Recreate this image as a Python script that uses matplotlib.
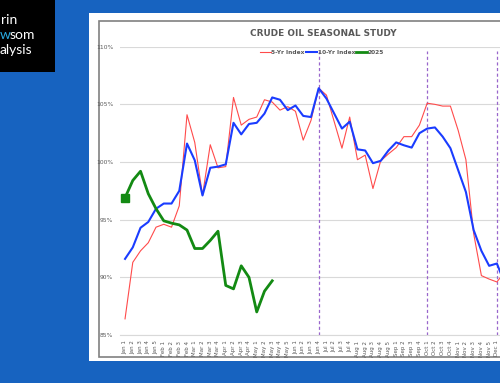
import numpy as np
import matplotlib.pyplot as plt
from matplotlib.patches import Rectangle

# semanas do ano (eixo x)
semanas = ['Jan 1', 'Jan 2', 'Jan 3', 'Jan 4', 'Jan 5',
           'Feb 1', 'Feb 2', 'Feb 3', 'Feb 4',
           'Mar 1', 'Mar 2', 'Mar 3', 'Mar 4',
           'Apr 1', 'Apr 2', 'Apr 3', 'Apr 4',
           'May 1', 'May 2', 'May 3', 'May 4', 'May 5',
           'Jun 1', 'Jun 2', 'Jun 3', 'Jun 4',
           'Jul 1', 'Jul 2', 'Jul 3', 'Jul 4',
           'Aug 1', 'Aug 2', 'Aug 3', 'Aug 4', 'Aug 5',
           'Sep 1', 'Sep 2', 'Sep 3', 'Sep 4',
           'Oct 1', 'Oct 2', 'Oct 3', 'Oct 4',
           'Nov 1', 'Nov 2', 'Nov 3', 'Nov 4', 'Nov 5',
           'Dec 1']

# indices sazonais (%)
idx_5anos = [86.4, 91.3, 92.3, 93.0, 94.35, 94.6, 94.35, 96.2, 104.1, 101.7,
             97.1, 101.5, 99.5, 99.6, 105.6, 103.2, 103.7, 103.9, 105.4, 105.2,
             104.5, 104.8, 104.4, 101.9, 103.6, 106.4, 105.8, 103.5, 101.2, 103.9,
             100.2, 100.6, 97.7, 100.1, 100.7, 101.25, 102.2, 102.2, 103.2, 105.1,
             105.0, 104.85, 104.85, 102.75, 100.2, 93.8, 90.15, 89.85, 89.6, 90.45]
idx_10anos = [91.6, 92.6, 94.3, 94.8, 95.95, 96.4, 96.4, 97.5, 101.6, 100.15,
              97.1, 99.5, 99.6, 99.8, 103.4, 102.4, 103.3, 103.4, 104.2, 105.6,
              105.4, 104.5, 104.9, 104.0, 103.9, 106.4, 105.5, 104.2, 102.9, 103.5,
              101.1, 101.0, 99.9, 100.1, 101.0, 101.7, 101.45, 101.25, 102.5, 102.9,
              103.0, 102.2, 101.2, 99.3, 97.4, 94.1, 92.3, 91.0, 91.2, 89.5]
idx_2025 = [96.9, 98.4, 99.2, 97.25, 95.95, 94.9, 94.7, 94.55, 94.1, 92.5,
            92.5, 93.2, 94.0, 89.3, 89.0, 91.0, 90.0, 87.0, 88.8, 89.7]

# semanas marcadas com linha tracejada
marcas = ['Jun 4', 'Oct 1', 'Dec 1']

y_ticks = [85, 90, 95, 100, 105, 110]

fonte = 'DejaVu Sans'
cinza = '#595959'
azul_fundo = '#1763C0'

fig = plt.figure(figsize=(5, 3.83), dpi=100)
fig.patch.set_facecolor(azul_fundo)

# fundo em pixels: logo, painel branco e moldura
bg = fig.add_axes([0, 0, 1, 1], zorder=-1)
bg.set_xlim(0, 500)
bg.set_ylim(383, 0)
bg.axis('off')
bg.add_patch(Rectangle((0, 0), 55, 72, facecolor='black', edgecolor='none'))
bg.text(1, 20, 'rin', color='white', fontsize=10, family='Lato', va='center', ha='left')
bg.text(0, 35, 'w', color='#29ABE2', fontsize=10, family='Lato', va='center', ha='left')
bg.text(10, 35, 'som', color='white', fontsize=10, family='Lato', va='center', ha='left')
bg.text(0, 50, 'alysis', color='white', fontsize=10, family='Lato', va='center', ha='left')
bg.add_patch(Rectangle((88.5, 13), 420, 348, facecolor='white', edgecolor='none'))
bg.add_patch(Rectangle((98.5, 21), 420, 336, facecolor='white', edgecolor='#808080', linewidth=1.2))
bg.text(323.5, 33, 'CRUDE OIL SEASONAL STUDY', fontsize=6.4, fontweight='bold',
        color=cinza, family=fonte, ha='center', va='center')

ax = fig.add_axes([120/500, 48/383, 404/500, 288.3/383])
ax.set_facecolor('none')

ax.plot(np.arange(len(idx_5anos)), idx_5anos, color='#FF4B4B', linewidth=0.8,
        label='5-Yr Index', zorder=3)
ax.plot(np.arange(len(idx_10anos)), idx_10anos, color='#1A3CFF', linewidth=1.5,
        label='10-Yr Index', zorder=4)
ax.plot(np.arange(len(idx_2025)), idx_2025, color='#138A13', linewidth=2.0,
        label='2025', zorder=5)
ax.plot(0, idx_2025[0], marker='s', markersize=5.5, color='#138A13', zorder=6)

for m in marcas:
    ax.vlines(semanas.index(m), 85, 109.6, colors='#9966CC', linestyles=(0, (2.5, 2)),
              linewidth=0.9, zorder=2)

ax.set_xlim(-0.65, 51.5)
ax.set_ylim(85, 110)
ax.set_yticks(y_ticks)
ax.set_yticklabels([f'{v}%' for v in y_ticks], fontsize=4.3, color=cinza, family=fonte)
ax.set_xticks(np.arange(len(semanas)))
ax.set_xticklabels(semanas, rotation=90, fontsize=4, color=cinza, family=fonte)
ax.tick_params(length=0, pad=4)
ax.tick_params(axis='y', pad=5)
ax.grid(axis='y', color='#D9D9D9', linewidth=0.8)
ax.set_axisbelow(True)
for lado in ['top', 'right', 'left']:
    ax.spines[lado].set_visible(False)
ax.spines['bottom'].set_color('#D9D9D9')

leg = ax.legend(loc='center', bbox_to_anchor=(0.5, 0.979), ncol=3, frameon=False,
                handlelength=1.9, handletextpad=0.1, columnspacing=0.2,
                prop={'family': fonte, 'size': 4.2, 'weight': 'bold'})
for t in leg.get_texts():
    t.set_color(cinza)

fig.savefig('out.png', dpi=100, facecolor=fig.get_facecolor())
